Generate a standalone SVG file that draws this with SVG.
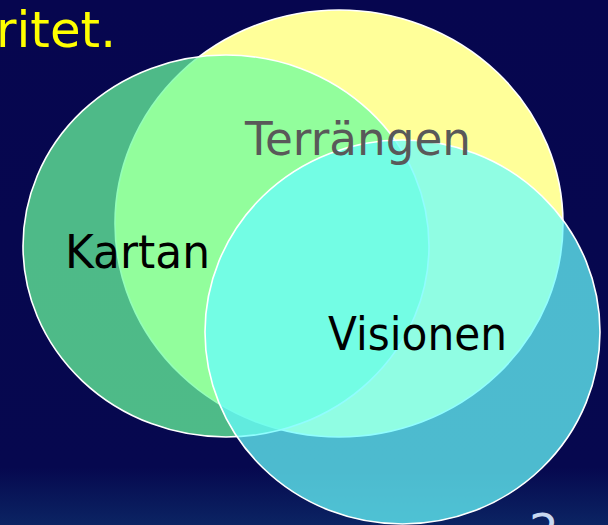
<svg xmlns="http://www.w3.org/2000/svg" width="608" height="525" viewBox="0 0 608 525">
  <defs>
    <linearGradient id="bg" x1="0" y1="0" x2="0" y2="1">
      <stop offset="0" stop-color="#06064F"/>
      <stop offset="0.89" stop-color="#06084F"/>
      <stop offset="1" stop-color="#0B2463"/>
    </linearGradient>
  </defs>
  <style>
    .set { stroke: #FFFFFF; stroke-width: 1.6; }
    .lbl { font-family: "DejaVu Sans", "Liberation Sans", sans-serif; font-size: 47px; }
  </style>
  <rect x="0" y="0" width="608" height="525" fill="url(#bg)"/>
  <text class="lbl" x="116" y="47" text-anchor="end" fill="#FFFF00" style="font-size:50px" textLength="120" lengthAdjust="spacingAndGlyphs">ritet.</text>
  <g id="terrangen">
    <ellipse class="set" cx="339" cy="223.5" rx="224" ry="213.5" fill="#FFFF99"/>
  </g>
  <g id="kartan">
    <ellipse class="set" cx="226" cy="246" rx="203" ry="191" fill="#6AFE9D" fill-opacity="0.73"/>
  </g>
  <g id="visionen">
    <ellipse class="set" cx="402.5" cy="332" rx="197.5" ry="192" fill="#68FCFE" fill-opacity="0.735"/>
  </g>
  <g id="labels">
    <text class="lbl" x="245" y="155" fill="#595959" textLength="226" lengthAdjust="spacingAndGlyphs">Terrängen</text>
    <text class="lbl" x="65" y="268" fill="#000000" textLength="145" lengthAdjust="spacingAndGlyphs">Kartan</text>
    <text class="lbl" x="328" y="350" fill="#000000" textLength="179" lengthAdjust="spacingAndGlyphs">Visionen</text>
  </g>
  <g id="connectors"/>
  <text class="lbl" x="529" y="547" fill="#C8D8F0">2</text>
</svg>
